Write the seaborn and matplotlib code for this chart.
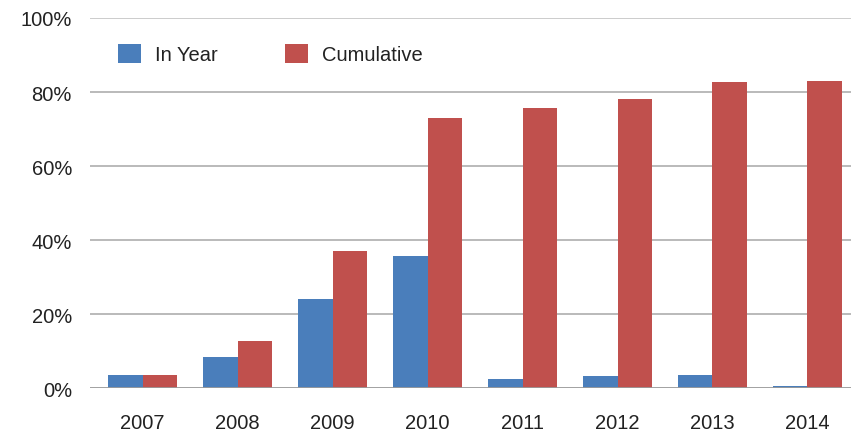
import matplotlib
matplotlib.use("Agg")
import matplotlib.pyplot as plt
import seaborn as sns
import pandas as pd
from matplotlib.ticker import FuncFormatter

years = ["2007", "2008", "2009", "2010", "2011", "2012", "2013", "2014"]
in_year = [3.6, 8.5, 24.1, 35.7, 2.5, 3.3, 3.6, 0.5]
cumulative = [3.6, 12.7, 37.0, 73.1, 75.8, 78.2, 82.6, 83.1]
series_names = ["In Year", "Cumulative"]
yticks = [0, 20, 40, 60, 80, 100]

df = pd.DataFrame({
    "year": years * 2,
    "value": in_year + cumulative,
    "series": [series_names[0]] * len(years) + [series_names[1]] * len(years),
})

sns.set_theme(style="white")
plt.rcParams["font.family"] = ["Liberation Sans", "DejaVu Sans"]

fig = plt.figure(figsize=(8.53, 4.35), dpi=100)
ax = fig.add_axes([90/853, 1 - 389.3/435, (851-90)/853, (389.3-19)/435])

sns.barplot(data=df, x="year", y="value", hue="series", order=years,
            hue_order=series_names, palette=["#4A7EBB", "#C0504D"],
            width=0.726, saturation=1, edgecolor="none", linewidth=0, ax=ax)

ax.set_ylim(0, 100)
ax.set_xlim(-0.553, 7.458)
ax.set_yticks(yticks)
ax.yaxis.set_major_formatter(FuncFormatter(lambda v, p: f"{int(v)}%"))
ax.set_xlabel("")
ax.set_ylabel("")
for s in ax.spines.values():
    s.set_visible(False)
ax.set_axisbelow(True)
for t in yticks:
    col = "#9a9a9a" if t == 0 else ("#c8c8c8" if t == 100 else "#b4b4b4")
    ax.axhline(t, color=col, lw=1.3, zorder=0 if t else 3)
ax.tick_params(axis="both", length=0, labelsize=14.5, colors="#222222")
ax.tick_params(axis="x", pad=18)
ax.tick_params(axis="y", pad=13)

handles, labels = ax.get_legend_handles_labels()
ax.legend(handles, labels, loc="center left", bbox_to_anchor=(0.037, 0.903),
          ncol=2, frameon=False, fontsize=14.5, handlelength=1.15,
          handleheight=1.15, handletextpad=0.7, columnspacing=3.3,
          borderpad=0, borderaxespad=0, labelcolor="#222222")

fig.savefig("out.png", dpi=100)
